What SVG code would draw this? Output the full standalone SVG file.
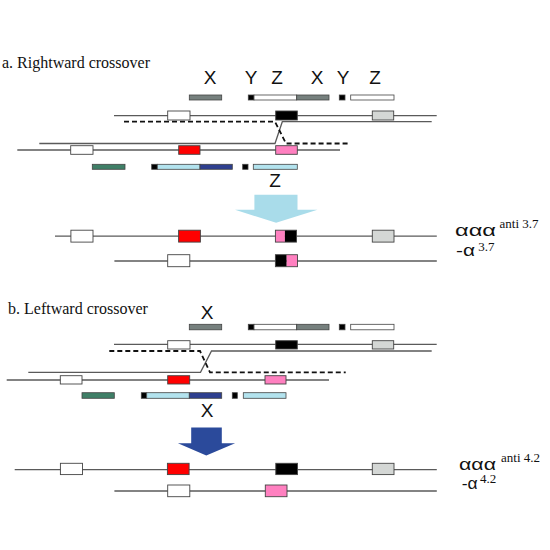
<svg xmlns="http://www.w3.org/2000/svg" width="550" height="550" viewBox="0 0 550 550">
<style>
.title{font-family:"Liberation Serif","Times New Roman",serif;font-size:16px;fill:#111}
.lbl{font-family:"Liberation Sans",Arial,sans-serif;font-size:19px;fill:#111;text-anchor:middle}
.alpha{font-family:"Liberation Sans",Arial,sans-serif;font-size:17px;fill:#111}
.sup{font-family:"Liberation Serif","Times New Roman",serif;font-size:13px;fill:#111}
.chr{stroke:#5a5a5a;stroke-width:1.3;fill:none}
.dash{stroke:#111;stroke-width:1.8;stroke-dasharray:5 3;fill:none}
.box{stroke:#444;stroke-width:0.9}
.bar{stroke:#444;stroke-width:0.8}
.w{fill:#ffffff}.k{fill:#000000}.r{fill:#ff0000}.p{fill:#ff80c0}.g{fill:#d4d7d5}
.gb{fill:#76807e}.gr{fill:#3f7f67}.lb{fill:#b3e3ee}.db{fill:#2e3f8f}
</style>
<rect width="550" height="550" fill="#ffffff"/>

<!-- Section a -->
<text class="title" x="2" y="68">a. Rightward crossover</text>
<g id="a-labels">
<text class="lbl" x="210" y="84">X</text>
<text class="lbl" x="251" y="84">Y</text>
<text class="lbl" x="277" y="84">Z</text>
<text class="lbl" x="317" y="84">X</text>
<text class="lbl" x="343" y="84">Y</text>
<text class="lbl" x="375" y="84">Z</text>
</g>
<g id="a-top-bars">
<rect class="bar gb" x="189.3" y="95" width="32.4" height="5"/>
<rect class="bar k" x="248.3" y="95" width="5.7" height="5"/>
<rect class="bar w" x="254" y="95" width="42.7" height="5"/>
<rect class="bar gb" x="296.7" y="95" width="32.3" height="5"/>
<rect class="bar k" x="339.3" y="95" width="5.7" height="5"/>
<rect class="bar w" x="350.7" y="95" width="43.3" height="5"/>
</g>
<g id="a-connectors">
<line class="chr" x1="114" y1="115.7" x2="436.7" y2="115.7"/>
<polyline class="chr" points="39.3,143.5 275,143.5 282.3,121.7 431.7,121.7"/>
<polyline class="dash" points="124,121.7 275,121.7 286,143.5 350,143.5"/>
<line class="chr" x1="17.3" y1="150" x2="340" y2="150"/>
</g>
<g id="a-upper-chrom">
<rect class="box w" x="167.7" y="111" width="22.3" height="9"/>
<rect class="box k" x="275.7" y="111" width="21.6" height="9"/>
<rect class="box g" x="372.3" y="111" width="21.4" height="9"/>
</g>
<g id="a-lower-chrom">
<rect class="box w" x="70.7" y="145.7" width="22.3" height="8.6"/>
<rect class="box r" x="178.7" y="145.7" width="21.3" height="8.6"/>
<rect class="box p" x="275.7" y="145.7" width="21.6" height="8.6"/>
</g>
<g id="a-bottom-bars">
<rect class="bar gr" x="92.3" y="164.3" width="32.7" height="5"/>
<rect class="bar k" x="151.7" y="164.3" width="5.6" height="5"/>
<rect class="bar lb" x="157.3" y="164.3" width="42.7" height="5"/>
<rect class="bar db" x="200" y="164.3" width="32.3" height="5"/>
<rect class="bar k" x="242.7" y="164.3" width="5.3" height="5"/>
<rect class="bar lb" x="253.3" y="164.3" width="44" height="5"/>
</g>
<text class="lbl" x="275" y="187">Z</text>
<g id="a-arrow">
<polygon points="254.4,194.7 297.5,194.7 297.5,209.8 317.5,209.8 276.1,222.8 235,209.8 254.4,209.8" fill="#a9dcea"/>
</g>
<g id="a-result1">
<line class="chr" x1="55" y1="236.1" x2="436.8" y2="236.1"/>
<rect class="box w" x="70.9" y="230.2" width="22.1" height="11.9"/>
<rect class="box r" x="178.6" y="230.2" width="21.8" height="11.9"/>
<rect class="p" x="275.4" y="230.2" width="9.5" height="11.9"/>
<rect class="k" x="284.9" y="230.2" width="11.6" height="11.9"/>
<rect class="box" fill="none" x="275.4" y="230.2" width="21.1" height="11.9"/>
<rect class="box g" x="372.3" y="230.2" width="21.7" height="11.9"/>
<text class="alpha" x="455" y="235.7" textLength="41" lengthAdjust="spacingAndGlyphs">ααα</text>
<text class="sup" x="499.5" y="227.7">anti 3.7</text>
</g>
<g id="a-result2">
<line class="chr" x1="114.4" y1="261" x2="436.8" y2="261"/>
<rect class="box w" x="167.7" y="254.7" width="22.1" height="12"/>
<rect class="k" x="275.4" y="254.7" width="11.3" height="12"/>
<rect class="p" x="286.7" y="254.7" width="10.8" height="12"/>
<rect class="box" fill="none" x="275.4" y="254.7" width="22.1" height="12"/>
<text class="alpha" x="456" y="255.7" textLength="19" lengthAdjust="spacingAndGlyphs">-α</text>
<text class="sup" x="478.3" y="251">3.7</text>
</g>

<!-- Section b -->
<text class="title" x="8" y="314">b. Leftward crossover</text>
<text class="lbl" x="207" y="319">X</text>
<g id="b-top-bars">
<rect class="bar gb" x="189.3" y="324.3" width="32.4" height="5.5"/>
<rect class="bar k" x="248.3" y="324.3" width="5.7" height="5.5"/>
<rect class="bar w" x="254" y="324.3" width="42.7" height="5.5"/>
<rect class="bar gb" x="296.7" y="324.3" width="32.3" height="5.5"/>
<rect class="bar k" x="339.3" y="324.3" width="5.7" height="5.5"/>
<rect class="bar w" x="350.7" y="324.3" width="43.3" height="5.5"/>
</g>
<g id="b-connectors">
<line class="chr" x1="114" y1="344.3" x2="436.7" y2="344.3"/>
<polyline class="chr" points="28.3,372.3 200.5,372.3 211.5,351 431.7,351"/>
<polyline class="dash" points="109.3,351 200,351 210,372.3 345.7,372.3"/>
<line class="chr" x1="6.7" y1="380" x2="329" y2="380"/>
</g>
<g id="b-upper-chrom">
<rect class="box w" x="167.7" y="340.7" width="22.3" height="8.3"/>
<rect class="box k" x="275.7" y="340.7" width="21.6" height="8.3"/>
<rect class="box g" x="372.3" y="340.7" width="21.4" height="8.3"/>
</g>
<g id="b-lower-chrom">
<rect class="box w" x="60.3" y="375.7" width="21.7" height="8.3"/>
<rect class="box r" x="167.7" y="375.7" width="22" height="8.3"/>
<rect class="box p" x="265" y="375.7" width="21" height="8.3"/>
</g>
<g id="b-bottom-bars">
<rect class="bar gr" x="82" y="392.7" width="32.3" height="5.6"/>
<rect class="bar k" x="141.3" y="392.7" width="5.4" height="5.6"/>
<rect class="bar lb" x="146.7" y="392.7" width="42.6" height="5.6"/>
<rect class="bar db" x="189.3" y="392.7" width="32.4" height="5.6"/>
<rect class="bar k" x="232.3" y="392.7" width="5" height="5.6"/>
<rect class="bar lb" x="243.3" y="392.7" width="42.7" height="5.6"/>
</g>
<text class="lbl" x="207" y="417">X</text>
<g id="b-arrow">
<polygon points="191.2,427.5 221.8,427.5 221.8,443.3 235.1,443.3 206.3,455.6 177.9,443.3 191.2,443.3" fill="#2b4a9b"/>
</g>
<g id="b-result1">
<line class="chr" x1="14.7" y1="469.6" x2="436.8" y2="469.6"/>
<rect class="box w" x="60.4" y="463.3" width="22.1" height="11.3"/>
<rect class="box r" x="167.4" y="463.3" width="21.7" height="11.3"/>
<rect class="box k" x="275.8" y="463.3" width="21.7" height="11.3"/>
<rect class="box g" x="372.3" y="463.3" width="21.7" height="11.3"/>
<text class="alpha" x="459" y="470" textLength="37" lengthAdjust="spacingAndGlyphs">ααα</text>
<text class="sup" x="501" y="461.7">anti 4.2</text>
</g>
<g id="b-result2">
<line class="chr" x1="114.4" y1="491" x2="436.8" y2="491"/>
<rect class="box w" x="167.7" y="485" width="22.1" height="11.7"/>
<rect class="box p" x="265.3" y="485" width="21.7" height="11.7"/>
<text class="alpha" x="461.7" y="489.3" textLength="16" lengthAdjust="spacingAndGlyphs">-α</text>
<text class="sup" x="480" y="483.3">4.2</text>
</g>
</svg>
